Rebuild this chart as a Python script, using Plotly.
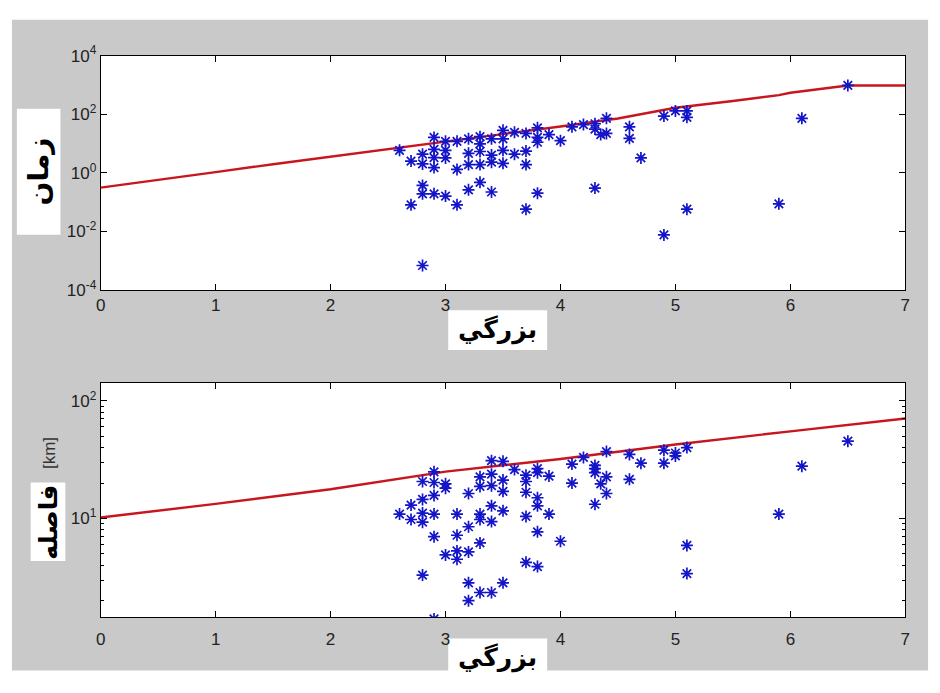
import plotly.graph_objects as go
import math

# ---------------- data ----------------
# top panel: magnitude vs time (log)
top_mag = [2.6, 2.7, 2.7, 2.8, 2.8, 2.8, 2.8, 2.8,
           2.9, 2.9, 2.9, 2.9, 2.9, 3.0, 3.0, 3.0, 3.0,
           3.1, 3.1, 3.1, 3.2, 3.2, 3.2, 3.2,
           3.3, 3.3, 3.3, 3.3, 3.3, 3.4, 3.4, 3.4, 3.4,
           3.5, 3.5, 3.5, 3.5, 3.6, 3.6, 3.7, 3.7, 3.7, 3.7,
           3.8, 3.8, 3.8, 3.8, 3.9, 4.0, 4.1, 4.2, 4.3, 4.3, 4.3,
           4.35, 4.4, 4.4, 4.6, 4.6, 4.7, 4.9, 4.9, 5.0,
           5.1, 5.1, 5.1, 5.9, 6.1, 6.5]
top_time = [5.8, 2.5, 0.08, 2.0, 4.3, 0.37, 0.19, 0.00068,
            16, 6.3, 3.3, 1.5, 0.19, 11.8, 5.8, 3.2, 0.16,
            11.8, 1.3, 0.08, 14.4, 4.6, 1.9, 0.26,
            17, 9.6, 5.3, 1.9, 0.47, 14.4, 4.0, 2.3, 0.22,
            28, 14.4, 5.8, 2.1, 24, 4.3, 22, 5.5, 1.9, 0.057,
            34, 16, 11, 0.20, 20, 12.4, 37, 44, 47, 31, 0.30,
            20, 72, 22, 37, 15, 3.2, 86, 0.0075, 129,
            129, 78, 0.057, 0.087, 72, 960]

# top panel: red reference curve
top_line_mag = [0, 0.5, 1, 1.5, 2, 2.5, 3, 3.5, 4, 4.5, 5, 5.5, 5.9, 6, 6.5, 7]
top_line_time = [0.31, 0.56, 1.05, 1.95, 3.5, 6.3, 11.7, 21.4, 38, 71,
                 166, 282, 447, 537, 955, 955]

# bottom panel: magnitude vs distance [km] (log)
bot_mag = [2.6, 2.7, 2.7, 2.8, 2.8, 2.8, 2.8, 2.8,
           2.9, 2.9, 2.9, 2.9, 2.9, 2.9, 3.0, 3.0, 3.0,
           3.1, 3.1, 3.1, 3.1, 3.2, 3.2, 3.2, 3.2, 3.2,
           3.3, 3.3, 3.3, 3.3, 3.3, 3.3, 3.4, 3.4, 3.4, 3.4, 3.4, 3.4,
           3.5, 3.5, 3.5, 3.5, 3.5, 3.6, 3.7, 3.7, 3.7, 3.7, 3.7,
           3.8, 3.8, 3.8, 3.8, 3.8, 3.8, 3.9, 3.9, 4.0, 4.1, 4.1, 4.2,
           4.3, 4.3, 4.3, 4.3, 4.35, 4.4, 4.4, 4.4, 4.6, 4.6, 4.7,
           4.9, 4.9, 5.0, 5.0, 5.1, 5.1, 5.1, 5.9, 6.1, 6.5]
bot_dist = [10.9, 13, 9.8, 20.6, 14.5, 11.1, 9.3, 3.3,
            24.9, 20.2, 15.7, 10.9, 7.0, 1.4, 19.7, 18.1, 4.9,
            10.9, 7.2, 5.3, 4.5, 16.3, 8.5, 5.2, 2.84, 2.0,
            22.6, 18.7, 10.9, 9.8, 6.2, 2.35, 31, 23.8, 19, 12.8, 9.4, 2.35,
            30.6, 21.2, 17, 11.6, 2.84, 26, 23.3, 20.6, 16.7, 10.4, 4.24,
            26.5, 24.5, 15, 12.8, 7.7, 3.9, 22.9, 10.9, 6.4, 29, 20, 33,
            28.2, 26.5, 24.5, 13.2, 19.7, 37, 22.6, 16.3, 35, 21.5, 29.5,
            38, 29.5, 36, 34, 40, 5.9, 3.4, 10.9, 27.8, 45.4]

# bottom panel: red reference curve
bot_line_mag = [0, 1, 2, 3, 4, 5, 6, 7]
bot_line_dist = [10.2, 13.3, 17.7, 25, 32, 42.5, 55, 70.6]

# tick labels
x_ticks = [0, 1, 2, 3, 4, 5, 6, 7]
top_yticks = [1e-4, 1e-2, 1, 1e2, 1e4]
top_yticklabels = ["10<sup>-4</sup>", "10<sup>-2</sup>", "10<sup>0</sup>",
                   "10<sup>2</sup>", "10<sup>4</sup>"]
bot_yticks = [10, 100]
bot_yticklabels = ["10<sup>1</sup>", "10<sup>2</sup>"]
bot_minor = [2, 3, 4, 5, 6, 7, 8, 9, 20, 30, 40, 50, 60, 70, 80, 90]

xlabel = "بزرگي"
ylabel_top = "زمان"
ylabel_bot = "فاصله"
ylabel_bot_unit = "[km]"

# ---------------- layout geometry ----------------
W, H = 940, 693
def px(x):
    return x / W
def py(y):
    return 1 - y / H

X0, X1 = 96.7, 910
T0, T1 = 45, 287
B0, B1 = 383, 625

GRAY = "#c9c9c9"
BLUE = "#1414c8"
RED = "#c8161e"
TICKFONT = dict(family="Liberation Sans, Arial, sans-serif", size=17, color="#222222")

fig = go.Figure()

marker = dict(symbol="asterisk-open", size=10, color=BLUE,
              line=dict(color=BLUE, width=1.7))

fig.add_trace(go.Scatter(x=top_line_mag, y=top_line_time, mode="lines",
                         line=dict(color=RED, width=2.4), xaxis="x", yaxis="y",
                         showlegend=False, hoverinfo="skip"))
fig.add_trace(go.Scatter(x=top_mag, y=top_time, mode="markers", marker=marker,
                         xaxis="x", yaxis="y", showlegend=False))
fig.add_trace(go.Scatter(x=bot_line_mag, y=bot_line_dist, mode="lines",
                         line=dict(color=RED, width=2.4), xaxis="x2", yaxis="y2",
                         showlegend=False, hoverinfo="skip"))
fig.add_trace(go.Scatter(x=bot_mag, y=bot_dist, mode="markers", marker=marker,
                         xaxis="x2", yaxis="y2", showlegend=False))

axcommon = dict(showline=True, linecolor="black", linewidth=1, mirror="ticks",
                ticks="inside", ticklen=6, tickcolor="black", showgrid=False,
                zeroline=False, tickfont=TICKFONT)

xdom = [px(X0), px(X1)]
fig.update_layout(
    width=W, height=H,
    margin=dict(l=0, r=0, t=0, b=0),
    paper_bgcolor="white",
    plot_bgcolor="white",
    xaxis=dict(domain=xdom, range=[0, 7], tickvals=x_ticks, anchor="y", **axcommon),
    yaxis=dict(domain=[py(T1), py(T0)], type="log", range=[-4, 4],
               tickvals=top_yticks, ticktext=top_yticklabels, anchor="x", **axcommon),
    xaxis2=dict(domain=xdom, range=[0, 7], tickvals=x_ticks, anchor="y2", ticklabelstandoff=6,
                **axcommon),
    yaxis2=dict(domain=[py(B1), py(B0)], type="log",
                range=[math.log10(1.45), math.log10(142)],
                tickvals=bot_yticks, ticktext=bot_yticklabels, anchor="x2",
                minor=dict(tickvals=bot_minor, ticks="inside", ticklen=3,
                           tickcolor="black", showgrid=False),
                **axcommon),
)

def rect(x0, y0, x1, y1, color):
    return dict(type="rect", xref="paper", yref="paper", layer="below",
                x0=px(x0), x1=px(x1), y0=py(y1), y1=py(y0),
                fillcolor=color, line=dict(width=0))

fig.update_layout(shapes=[
    rect(7, 8, 933, 680, GRAY),
    rect(X0, T0, X1, T1, "white"),
    rect(X0, B0, X1, B1, "white"),
    rect(12, 100, 56, 230, "white"),
    rect(26, 486, 61, 567, "white"),
    rect(448, 308, 548, 349, "white"),
    rect(448, 647, 548, 688, "white"),
])

LABELFONT = dict(family="DejaVu Sans", size=25, color="black")
fig.update_layout(annotations=[
    dict(text="<b>%s</b>" % xlabel, x=px(498), y=py(328), xref="paper", yref="paper",
         showarrow=False, font=LABELFONT, xanchor="center", yanchor="middle"),
    dict(text="<b>%s</b>" % xlabel, x=px(498), y=py(667), xref="paper", yref="paper",
         showarrow=False, font=LABELFONT, xanchor="center", yanchor="middle"),
    dict(text="<b>%s</b>" % ylabel_top, x=px(34), y=py(165), xref="paper", yref="paper",
         showarrow=False, font=dict(family="DejaVu Sans", size=28, color="black"),
         textangle=-90, xanchor="center", yanchor="middle"),
    dict(text="<b>%s</b>" % ylabel_bot, x=px(44), y=py(527), xref="paper", yref="paper",
         showarrow=False, font=LABELFONT, textangle=-90,
         xanchor="center", yanchor="middle"),
    dict(text=ylabel_bot_unit, x=px(45), y=py(456), xref="paper", yref="paper",
         showarrow=False, font=dict(family="Liberation Sans, Arial", size=17, color="#333333"),
         textangle=-90, xanchor="center", yanchor="middle"),
])

fig.write_html("out.html")
